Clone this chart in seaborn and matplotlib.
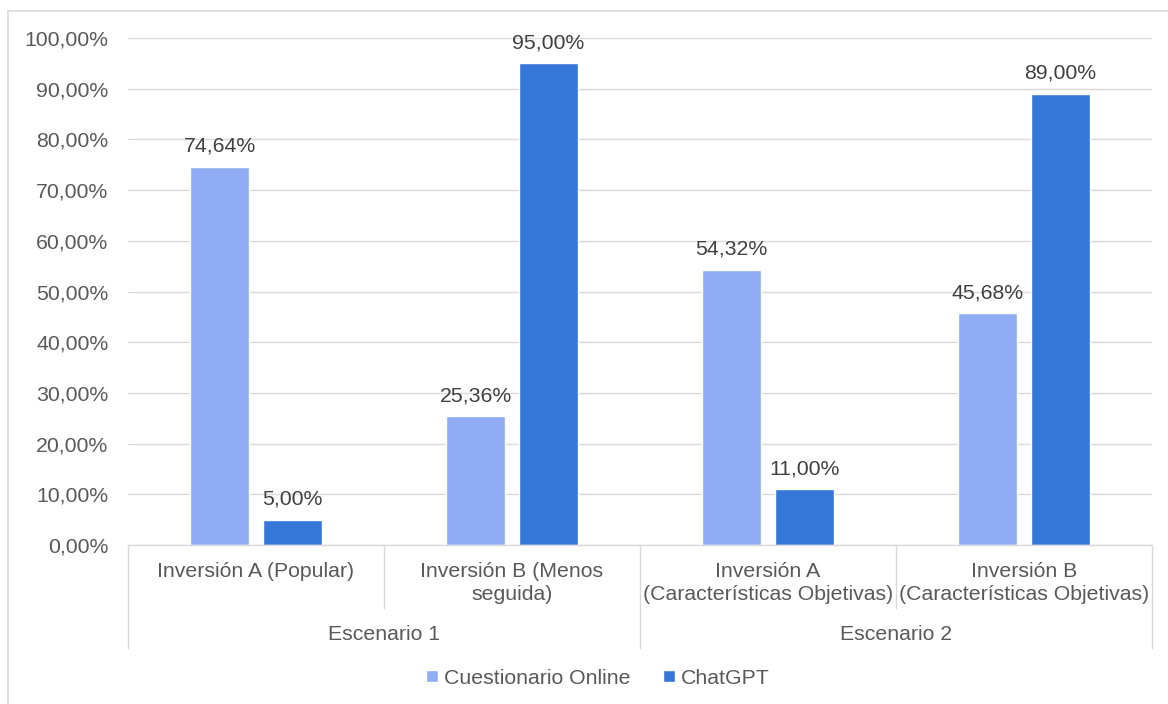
import matplotlib
matplotlib.use("Agg")
import matplotlib.pyplot as plt
import matplotlib.transforms as mtransforms
from matplotlib.lines import Line2D
import seaborn as sns
import pandas as pd

# ---- data ----
categories = [
    "Inversión A (Popular)",
    "Inversión B (Menos\nseguida)",
    "Inversión A\n(Características Objetivas)",
    "Inversión B\n(Características Objetivas)",
]
groups = ["Escenario 1", "Escenario 2"]
group_members = [[0, 1], [2, 3]]
series_names = ["Cuestionario Online", "ChatGPT"]
cuestionario = [0.7464, 0.2536, 0.5432, 0.4568]
chatgpt = [0.05, 0.95, 0.11, 0.89]
yticks = [0.0, 0.1, 0.2, 0.3, 0.4, 0.5, 0.6, 0.7, 0.8, 0.9, 1.0]

colors = ["#8FACF5", "#3577D8"]
text_color = "#595959"
label_color = "#404040"
grid_color = "#D9D9D9"
FS = 15.3

df = pd.DataFrame({
    "Categoría": categories * 2,
    "Serie": [series_names[0]] * 4 + [series_names[1]] * 4,
    "Valor": cuestionario + chatgpt,
})

sns.set_theme(style="white")
plt.rcParams["font.family"] = ["Liberation Sans", "DejaVu Sans"]
plt.rcParams["font.size"] = FS

fig = plt.figure(figsize=(11.68, 7.04), dpi=100)
ax = fig.add_axes([128 / 1168, 1 - 545 / 704, 1024 / 1168, 507 / 704])

sns.barplot(data=df, x="Categoría", y="Valor", hue="Serie", order=categories,
            hue_order=series_names, palette=colors, width=0.57, gap=0.2,
            saturation=1, ax=ax, legend=True)

def fmt(v):
    return f"{v * 100:.2f}%".replace(".", ",")

for cont in ax.containers:
    ax.bar_label(cont, labels=[fmt(v) for v in cont.datavalues], padding=8,
                 color=label_color, fontsize=FS)

ax.set_ylim(0, 1)
ax.set_xlim(-0.5, len(categories) - 0.5)
ax.set_yticks(yticks)
ax.set_yticklabels([fmt(v) for v in yticks], color=text_color, fontsize=FS)
ax.set_xticks(range(len(categories)))
ax.set_xticklabels(categories, color=text_color, fontsize=FS, linespacing=1.3)
ax.tick_params(axis="both", length=0)
ax.tick_params(axis="y", pad=14)
ax.tick_params(axis="x", pad=12)
ax.set_xlabel("")
ax.set_ylabel("")
ax.yaxis.grid(True, color=grid_color, linewidth=1)
ax.set_axisbelow(True)
for s in ["top", "right", "left"]:
    ax.spines[s].set_visible(False)
ax.spines["bottom"].set_color(grid_color)
ax.spines["bottom"].set_linewidth(1)

# multi-level category separators
trans = mtransforms.blended_transform_factory(ax.transData, ax.transAxes)
inner_depth = -(608 - 545) / 507
outer_depth = -(648 - 545) / 507
bounds = [-0.5]
for members in group_members:
    bounds.append(members[-1] + 0.5)
for b in bounds:
    ax.add_line(Line2D([b, b], [0, outer_depth], transform=trans, color=grid_color,
                       linewidth=1, clip_on=False))
for members in group_members:
    for m in members[:-1]:
        ax.add_line(Line2D([m + 0.5, m + 0.5], [0, inner_depth], transform=trans,
                           color=grid_color, linewidth=1, clip_on=False))

gtrans = mtransforms.blended_transform_factory(ax.transData, fig.transFigure)
for g, members in zip(groups, group_members):
    xc = (members[0] + members[-1]) / 2
    ax.text(xc, 1 - 634 / 704, g, transform=gtrans, ha="center", va="center",
            color=text_color, fontsize=FS)

# legend
handles, labels = ax.get_legend_handles_labels()
if ax.legend_:
    ax.legend_.remove()
fig.legend(handles, labels, loc="center", bbox_to_anchor=(598 / 1168, 1 - 678 / 704),
           ncol=2, frameon=False, handlelength=0.55, handleheight=0.55,
           handletextpad=0.3, columnspacing=1.5, labelcolor=text_color, fontsize=FS)

# chart frame (left and top borders)
fig.add_artist(Line2D([8 / 1168, 8 / 1168], [0, 1 - 11 / 704], transform=fig.transFigure,
                      color=grid_color, linewidth=1.2))
fig.add_artist(Line2D([8 / 1168, 1], [1 - 11 / 704, 1 - 11 / 704], transform=fig.transFigure,
                      color=grid_color, linewidth=1.2))

fig.savefig("out.png", dpi=100, facecolor="white")
